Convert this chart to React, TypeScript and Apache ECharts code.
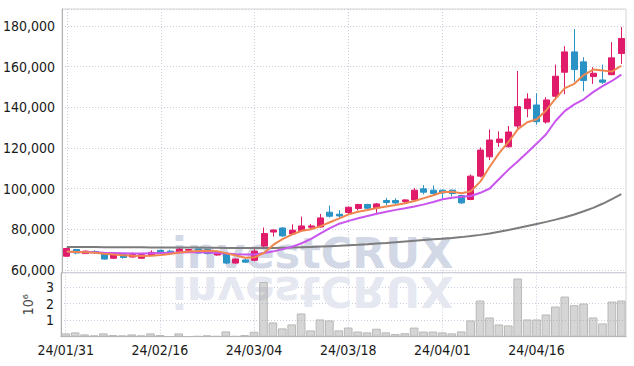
import React, { useEffect, useRef } from 'react';
import * as echarts from 'echarts';

const dates = [
  '24/01/31', '24/02/01', '24/02/02', '24/02/05', '24/02/06', '24/02/07', '24/02/08', '24/02/13', '24/02/14', '24/02/15',
  '24/02/16', '24/02/19', '24/02/20', '24/02/21', '24/02/22', '24/02/23', '24/02/26', '24/02/27', '24/02/28', '24/02/29',
  '24/03/04', '24/03/05', '24/03/06', '24/03/07', '24/03/08', '24/03/11', '24/03/12', '24/03/13', '24/03/14', '24/03/15',
  '24/03/18', '24/03/19', '24/03/20', '24/03/21', '24/03/22', '24/03/25', '24/03/26', '24/03/27', '24/03/28', '24/03/29',
  '24/04/01', '24/04/02', '24/04/03', '24/04/04', '24/04/05', '24/04/08', '24/04/09', '24/04/11', '24/04/12', '24/04/15',
  '24/04/16', '24/04/17', '24/04/18', '24/04/19', '24/04/22', '24/04/23', '24/04/24', '24/04/25', '24/04/26', '24/04/29',
];

const opens = [
  66800, 70100, 68100, 69100, 68200, 65800, 67800, 66400, 65800, 67400,
  69700, 69300, 68800, 69700, 70350, 70100, 67400, 68100, 63450, 65000,
  64800, 71800, 78700, 80700, 77750, 79400, 81050, 81200, 88450, 87460,
  88300, 90270, 92240, 90570, 94200, 94200, 93720, 94510, 99930, 99290,
  99290, 99300, 96680, 94710, 106200, 115700, 122800, 120640, 130840, 139370,
  141200, 132800, 145500, 157300, 167300, 162400, 155150, 153500, 156100, 166500,
];
const closes = [
  70600, 68400, 69300, 68700, 65400, 67400, 66200, 67700, 67600, 68700,
  68100, 68700, 70350, 70100, 68400, 68100, 69100, 63450, 65400, 63900,
  69300, 77950, 79700, 76800, 79600, 81700, 81700, 85650, 86470, 86600,
  90900, 92240, 90400, 92540, 93230, 93000, 94510, 99290, 98300, 97660,
  97960, 97660, 93030, 106200, 119000, 123940, 124440, 127900, 140360, 144150,
  132960, 143660, 155350, 167300, 158600, 153200, 156800, 152400, 164370, 173900,
];
const lows = [
  66500, 67800, 67900, 67900, 65100, 65500, 65600, 66100, 65500, 67100,
  67900, 67800, 68500, 69300, 68100, 67800, 67100, 62900, 63100, 63500,
  64300, 71200, 76500, 76400, 77400, 78700, 80060, 80900, 85830, 85140,
  87460, 89300, 90000, 88100, 91900, 92600, 93000, 94200, 97300, 96900,
  94700, 96200, 92500, 94400, 105550, 114080, 120640, 120300, 129200, 135130,
  131500, 132000, 143810, 146470, 152700, 147950, 151550, 151550, 155840, 161400,
];
const highs = [
  70900, 70400, 69600, 69800, 68500, 67700, 68000, 68700, 67900, 69700,
  70000, 70000, 71000, 70500, 70600, 70400, 69400, 68400, 65700, 65800,
  70300, 80900, 80000, 81000, 82500, 86300, 82700, 87600, 91750, 89430,
  91200, 92600, 92600, 93000, 95500, 95300, 94800, 100300, 101760, 101600,
  99600, 99600, 97000, 107000, 120340, 129200, 128230, 130840, 157900, 146960,
  146960, 145000, 161060, 170100, 178500, 164700, 159770, 161060, 172100, 179500,
];

const ma5 = [
  69100, 68900, 68700, 68500, 68000, 67600, 67300, 67000, 66900, 67000,
  67400, 67900, 68600, 69100, 69400, 69500, 69300, 68200, 67200, 66100,
  66300, 68500, 72500, 75300, 77600, 79300, 80100, 81600, 83500, 85400,
  87400, 88700, 89500, 90500, 91300, 92000, 92900, 94000, 95400, 96800,
  98400, 98500, 97800, 98800, 103500, 110800, 117500, 123000, 129300, 132700,
  134200, 138500, 144300, 149500, 151600, 155900, 158600, 158200, 157600, 160500,
];
const ma20 = [
  69000, 68900, 68800, 68700, 68500, 68400, 68300, 68200, 68200, 68300,
  68400, 68500, 68600, 68700, 68700, 68600, 68400, 68100, 67800, 67700,
  67700, 68400, 69200, 70300, 71500, 73200, 75300, 78000, 80600, 82800,
  84200, 85500, 86600, 87700, 88700, 89600, 90400, 91300, 92300, 93500,
  94800, 95600, 96000, 96400, 98000, 100100, 104800, 109400, 113500, 117800,
  122200, 126800, 133300, 138300, 141500, 144000, 147500, 150500, 153000, 156100,
];
const ma60 = [
  71300, 71300, 71300, 71300, 71250, 71250, 71200, 71200, 71200, 71150,
  71150, 71100, 71100, 71050, 71050, 71000, 70950, 70900, 70850, 70800,
  70800, 70850, 70900, 71000, 71100, 71250, 71400, 71550, 71750, 71950,
  72200, 72450, 72750, 73050, 73350, 73700, 74050, 74400, 74750, 75100,
  75450, 75800, 76200, 76700, 77300, 78000, 78800, 79700, 80700, 81700,
  82700, 83700, 84800, 86000, 87300, 88900, 90600, 92600, 94900, 97300,
];

const volumes = [
  200000, 260000, 140000, 80000, 200000, 100000, 80000, 140000, 80000, 200000,
  100000, 20000, 200000, 20000, 40000, 80000, 40000, 320000, 40000, 100000,
  300000, 3300000, 860000, 500000, 740000, 1400000, 380000, 1040000, 980000, 380000,
  550000, 310000, 260000, 480000, 260000, 160000, 210000, 550000, 310000, 310000,
  260000, 200000, 320000, 980000, 2180000, 1160000, 740000, 680000, 3510000, 1040000,
  1040000, 1340000, 1820000, 2420000, 1900000, 2000000, 1160000, 800000, 2120000, 2180000,
];

const PRICE_MIN = 58700;
const PRICE_MAX = 188400;
const VOL_MAX = 3860000;

const FONT = '"Liberation Sans Narrow", "DejaVu Sans Condensed", sans-serif';
const GRID_LINE = { color: '#c9cddd', width: 1, type: [1, 2] as any };

export default function App() {
  const ref = useRef<HTMLDivElement>(null);

  useEffect(() => {
    if (!ref.current) return;
    const chart = echarts.init(ref.current, undefined, { renderer: 'svg' });
    const candles = dates.map((_, i) => [opens[i], closes[i], lows[i], highs[i]]);

    const option: any = {
      animation: false,
      backgroundColor: '#ffffff',
      grid: [
        { left: 61, right: 8, top: 9, height: 263.7, show: true, borderColor: '#d4d4d4', borderWidth: 1 },
        { left: 61, right: 8, top: 272.7, height: 64, show: true, borderColor: '#d4d4d4', borderWidth: 1 },
      ],
      graphic: [
        {
          type: 'text', z: 1, x: 172, y: 253,
          style: { text: 'investCRUX', font: 'bold 43px "DejaVu Sans"', fill: '#d2d8e6', verticalAlign: 'middle' },
        },
        {
          type: 'text', z: 1, x: 172, y: 292, scaleY: -1,
          style: { text: 'investCRUX', font: 'bold 43px "DejaVu Sans"', fill: '#e5e8f0', verticalAlign: 'middle' },
        },
      ],
      xAxis: [
        {
          type: 'category', gridIndex: 0, data: dates, boundaryGap: true,
          axisLine: { show: false }, axisTick: { show: false }, axisLabel: { show: false },
          splitLine: { show: true, interval: 9, alignWithLabel: true, lineStyle: GRID_LINE },
        },
        {
          type: 'category', gridIndex: 1, data: dates, boundaryGap: true,
          axisLine: { show: true, lineStyle: { color: '#b0b0b0' } }, axisTick: { show: false },
          axisLabel: { show: true, interval: 9, color: '#1a1a1a', fontSize: 14, fontFamily: FONT, margin: 6 },
          splitLine: { show: true, interval: 9, alignWithLabel: true, lineStyle: GRID_LINE },
        },
      ],
      yAxis: [
        {
          type: 'value', gridIndex: 0, min: PRICE_MIN, max: PRICE_MAX, splitNumber: 6, scale: true,
          axisLine: { show: true, lineStyle: { color: '#b0b0b0' } }, axisTick: { show: false },
          axisLabel: {
            color: '#1a1a1a', fontSize: 14, fontFamily: FONT, margin: 7,
            formatter: (v: number) => (v % 20000 === 0 ? v.toLocaleString('en-US') : ''),
          },
          splitLine: { show: true, lineStyle: GRID_LINE },
        },
        {
          type: 'value', gridIndex: 1, min: 0, max: VOL_MAX, interval: 1000000,
          name: '10⁶', nameLocation: 'middle', nameRotate: 90, nameGap: 24,
          nameTextStyle: { color: '#444', fontSize: 14, fontFamily: FONT },
          axisLine: { show: true, lineStyle: { color: '#b0b0b0' } }, axisTick: { show: false },
          axisLabel: {
            color: '#1a1a1a', fontSize: 14, fontFamily: FONT, margin: 7,
            formatter: (v: number) => (v > 0 && v % 1000000 === 0 ? String(v / 1000000) : ''),
          },
          splitLine: { show: true, lineStyle: GRID_LINE },
        },
      ],
      series: [
        {
          type: 'bar', xAxisIndex: 1, yAxisIndex: 1, data: volumes, barWidth: '92%',
          itemStyle: { color: 'rgba(150,150,150,0.4)', borderColor: '#b8b8b8', borderWidth: 1 },
        },
        {
          type: 'candlestick', xAxisIndex: 0, yAxisIndex: 0, data: candles, barWidth: '70%',
          itemStyle: {
            color: '#e01b6a', color0: '#2a93c6', borderColor: '#e01b6a', borderColor0: '#2a93c6', borderWidth: 1,
          },
        },
        {
          type: 'line', xAxisIndex: 0, yAxisIndex: 0, data: ma60, symbol: 'none', smooth: false,
          lineStyle: { color: '#7c7c7c', width: 2 },
        },
        {
          type: 'line', xAxisIndex: 0, yAxisIndex: 0, data: ma20, symbol: 'none',
          lineStyle: { color: '#c955ee', width: 2 },
        },
        {
          type: 'line', xAxisIndex: 0, yAxisIndex: 0, data: ma5, symbol: 'none',
          lineStyle: { color: '#f0864f', width: 2 },
        },
      ],
    };
    chart.setOption(option);
    return () => chart.dispose();
  }, []);

  return (
    <div
      ref={ref}
      style={{ position: 'fixed', left: 0, top: 0, width: 634, height: 366, background: '#fff' }}
    />
  );
}
